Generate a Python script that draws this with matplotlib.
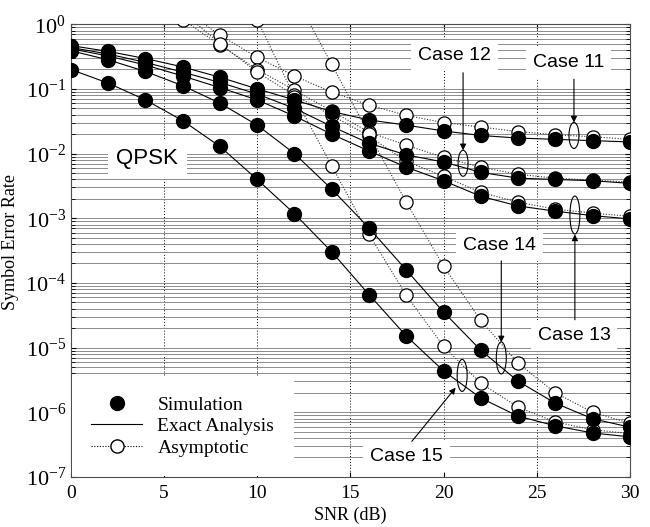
import numpy as np
import matplotlib
matplotlib.use("Agg")
from matplotlib import pyplot as plt
from matplotlib.patches import Ellipse
from matplotlib.lines import Line2D

plt.rcParams['font.family'] = ['Liberation Serif', 'DejaVu Serif']
plt.rcParams['mathtext.fontset'] = 'stix'

# SNR grid (dB)
snr = [0, 2, 4, 6, 8, 10, 12, 14, 16, 18, 20, 22, 24, 26, 28, 30]

# simulation / exact analysis, log10(SER)
sim11 = [-0.33, -0.42, -0.53, -0.66, -0.82, -1.00, -1.17, -1.35, -1.48, -1.56, -1.65, -1.72, -1.76, -1.78, -1.80, -1.82]
sim12 = [-0.36, -0.46, -0.59, -0.74, -0.90, -1.08, -1.30, -1.58, -1.84, -2.02, -2.13, -2.29, -2.38, -2.40, -2.42, -2.46]
sim13 = [-0.38, -0.49, -0.63, -0.80, -0.98, -1.17, -1.42, -1.70, -1.96, -2.21, -2.42, -2.66, -2.81, -2.89, -2.96, -3.01]
sim14 = [-0.41, -0.55, -0.73, -0.95, -1.22, -1.56, -2.00, -2.55, -3.15, -3.80, -4.45, -5.04, -5.52, -5.86, -6.10, -6.23]
sim15 = [-0.70, -0.91, -1.17, -1.49, -1.89, -2.40, -2.93, -3.52, -4.18, -4.82, -5.36, -5.78, -6.06, -6.21, -6.32, -6.38]

# asymptotic curves, log10(SER); first points lie above the plot
asy_snr_a = [4, 6, 8, 10, 12, 14, 16, 18, 20, 22, 24, 26, 28, 30]
asy11 = [0.60, 0.24, -0.17, -0.51, -0.80, -1.05, -1.25, -1.41, -1.52, -1.59, -1.66, -1.71, -1.74, -1.78]
asy12 = [0.50, 0.07, -0.32, -0.70, -1.02, -1.34, -1.67, -1.87, -2.06, -2.21, -2.32, -2.38, -2.41, -2.44]
asy13 = [0.60, 0.19, -0.30, -0.74, -1.10, -1.41, -1.73, -2.12, -2.35, -2.60, -2.75, -2.86, -2.92, -2.97]
asy_snr_b = [10, 12, 14, 16, 18, 20, 22, 24, 26, 28, 30]
asy14 = [1.50, 0.45, -0.62, -1.70, -2.75, -3.74, -4.58, -5.24, -5.70, -6.00, -6.17]
asy_snr_c = [6, 8, 10, 12, 14, 16, 18, 20, 22, 24, 26, 28, 30]
asy15 = [2.30, 1.20, 0.07, -1.12, -2.19, -3.25, -4.19, -4.98, -5.55, -5.92, -6.15, -6.27, -6.33]

sims = [sim11, sim12, sim13, sim14, sim15]
asys = [(asy_snr_a, asy11), (asy_snr_a, asy12), (asy_snr_a, asy13),
        (asy_snr_b, asy14), (asy_snr_c, asy15)]

# labels: (text, text pos, ellipse centre, ellipse h px, arrow start, arrow end) in (snr, log10)
cases = [
    ("Case 12", (20.6, -0.48), (21.05, -2.15), 26, (21.05, -0.75), (21.05, -1.95)),
    ("Case 11", (26.7, -0.59), (27.0, -1.72), 26, (27.0, -0.85), (27.0, -1.52)),
    ("Case 14", (23.0, -3.42), (23.1, -5.16), 32, (23.1, -3.66), (23.1, -4.92)),
    ("Case 13", (27.0, -4.81), (27.05, -2.95), 38, (27.05, -4.57), (27.05, -3.25)),
    ("Case 15", (18.0, -6.69), (21.0, -5.43), 32, (18.3, -6.45), (20.65, -5.62)),
]

fig = plt.figure(figsize=(6.5, 5.27), dpi=100)
ax = fig.add_axes([0.109, 0.095, 0.86, 0.859])
ax.set_yscale('log')
ax.set_xlim(0, 30)
ax.set_ylim(1e-7, 1)

# grid: solid grey horizontals at every decade step, dotted verticals
ax.yaxis.grid(True, which='both', color='0.55', lw=0.7, ls='-')
ax.xaxis.grid(True, which='major', color='k', lw=0.7, ls=(0, (1, 2)))
ax.set_axisbelow(True)

for sx, a in asys:
    ax.plot(sx, 10 ** np.array(a), ls=(0, (1, 1.5)), color='0.2', lw=0.8,
            marker='o', ms=9.5, mfc='white', mec='k', mew=0.9, zorder=3)
for s in sims:
    ax.plot(snr, 10 ** np.array(s), '-', color='k', lw=0.8, zorder=4)
    ax.plot(snr, 10 ** np.array(s), 'o', ms=10, color='k', zorder=5)

ax.text(4.1, 10 ** -2.07, "QPSK", family='Liberation Sans', fontsize=16,
        ha='center', va='center', zorder=6,
        bbox=dict(facecolor='white', edgecolor='none', pad=6))

for name, tpos, epos, eh, a0, a1 in cases:
    ax.text(tpos[0], 10 ** tpos[1], name, family='Liberation Sans', fontsize=14,
            ha='center', va='center', zorder=6,
            bbox=dict(facecolor='white', edgecolor='none', pad=5))
    e = Ellipse((epos[0] / 30, (epos[1] + 7) / 7), 10 / 560, eh / 453,
                transform=ax.transAxes, fill=False, ec='k', lw=0.8, zorder=7)
    ax.add_patch(e)
    ax.annotate('', xy=(a1[0], 10 ** a1[1]), xytext=(a0[0], 10 ** a0[1]),
                arrowprops=dict(arrowstyle='-|>', color='k', lw=0.8,
                                mutation_scale=9, shrinkA=0, shrinkB=0),
                zorder=7)

handles = [
    Line2D([], [], ls='none', marker='o', ms=10, color='k'),
    Line2D([], [], ls='-', color='k', lw=0.8),
    Line2D([], [], ls=(0, (1, 1.5)), color='k', lw=0.8, marker='o', ms=9.5,
           mfc='white', mec='k'),
]
leg = ax.legend(handles, ["Simulation", "Exact Analysis", "Asymptotic"],
                loc='lower left', fontsize=14, frameon=True, fancybox=False,
                framealpha=1, edgecolor='none', facecolor='white',
                handlelength=2.6, borderaxespad=0.05, borderpad=1.0,
                labelspacing=0.2)
leg.set_zorder(8)

ax.set_xticks([0, 5, 10, 15, 20, 25, 30])
ax.tick_params(axis='both', which='both', direction='in', top=True, right=True)
ax.tick_params(axis='x', labelsize=14, pad=6)
ax.tick_params(axis='y', labelsize=16)
ax.tick_params(which='minor', length=3)
for sp in ax.spines.values():
    sp.set_color('0.3')

ax.set_xlabel("SNR (dB)", fontsize=13, labelpad=3)
ax.set_ylabel("Symbol Error Rate", fontsize=13)
ax.yaxis.set_label_coords(-0.092, 0.52)

fig.savefig("out.png", dpi=100)
